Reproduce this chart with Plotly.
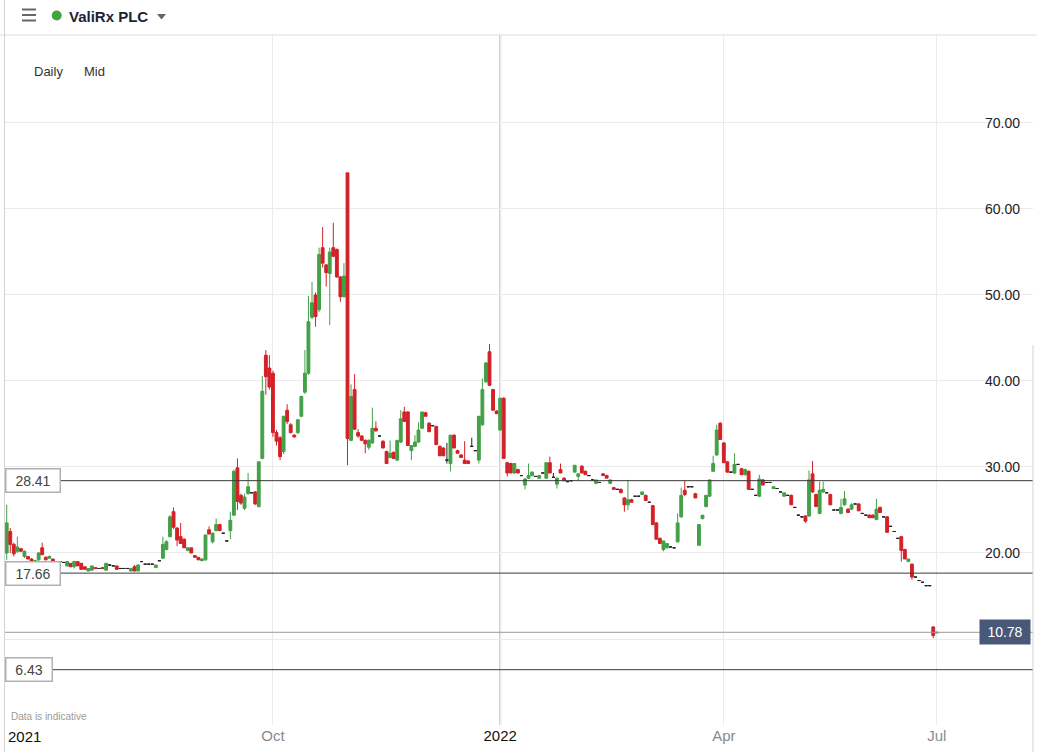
import pandas as pd
import plotly.graph_objects as go

# ---------------- data ----------------
title = "ValiRx PLC"
last_price = 10.78
levels = [28.41, 17.66, 6.43]
uk_holidays = ["2021-08-30", "2021-12-27", "2021-12-28", "2022-01-03", "2022-04-15",
               "2022-04-18", "2022-05-02", "2022-06-02", "2022-06-03"]
tick_months = ["2021-10-01", "2022-01-01", "2022-04-01", "2022-07-01"]
tick_labels = ["Oct", "2022", "Apr", "Jul"]
y_ticks = [10, 20, 30, 40, 50, 60, 70]

opens = [
    20.0, 22.5, 21.0, 20.2, 20.5, 19.6, 19.6, 19.3, 19.0, 19.2,
    20.6, 19.5, 19.4, 19.3, 19.0, 19.0, 18.9, 18.5, 18.8, 18.4,
    19.0, 18.8, 18.4, 17.9, 18.0, 18.3, 18.2, 18.3, 18.0, 18.6,
    18.5, 18.5, 18.2, 18.2, 18.2, 17.9, 18.4, 17.9, 19.0, 18.7,
    18.7, 18.7, 18.3, 19.1, 19.4, 20.4, 21.9, 24.8, 22.9, 21.9,
    21.6, 20.3, 20.6, 19.7, 19.5, 19.1, 19.2, 22.7, 21.3, 22.6,
    23.3, 22.3, 21.4, 22.6, 24.4, 29.9, 26.7, 25.2, 26.9, 27.0,
    27.1, 25.4, 31.0, 43.0, 41.5, 40.9, 34.0, 33.4, 31.8, 36.6,
    34.9, 33.7, 34.0, 35.9, 38.7, 40.9, 47.4, 50.0, 48.3, 55.5,
    53.5, 52.5, 55.5, 55.3, 52.1, 49.8, 64.2, 33.1, 39.0, 34.0,
    33.6, 33.1, 32.3, 32.8, 34.5, 33.6, 33.0, 31.8, 31.1, 31.7,
    30.8, 32.9, 36.4, 36.4, 31.9, 32.4, 32.9, 34.5, 36.3, 35.1,
    34.8, 34.7, 32.4, 32.2, 30.8, 30.4, 33.7, 31.9, 31.4, 30.8,
    30.7, 32.4, 31.9, 30.8, 34.9, 39.9, 43.4, 39.0, 36.5, 34.3,
    38.0, 30.5, 30.4, 29.3, 29.7, 29.0, 27.9, 28.7, 29.0, 28.9,
    28.7, 29.3, 28.7, 30.5, 28.8, 28.0, 29.7, 28.7, 28.3, 28.4,
    29.4, 28.9, 30.1, 29.5, 29.0, 28.5, 28.1, 28.2, 29.2, 29.0,
    28.1, 27.6, 27.4, 27.4, 26.4, 25.6, 26.2, 26.6, 26.6, 26.8,
    26.7, 25.9, 25.5, 23.5, 21.7, 20.4, 20.6, 20.7, 20.6, 21.3,
    24.2, 27.3, 27.7, 27.7, 26.9, 20.9, 24.0, 25.4, 26.6, 29.5,
    31.4, 35.1, 32.8, 30.6, 29.4, 29.3, 30.3, 29.8, 29.1, 29.5,
    27.4, 26.7, 26.6, 28.5, 28.2, 28.2, 27.5, 27.5, 27.1, 26.6,
    26.7, 26.7, 25.3, 24.4, 24.2, 24.3, 24.3, 29.2, 26.8, 24.6,
    27.1, 27.0, 26.8, 25.0, 25.0, 24.6, 25.6, 25.1, 25.1, 25.7,
    25.7, 24.6, 24.4, 24.4, 24.4, 23.9, 25.3, 24.2, 24.2, 23.1,
    22.5, 21.7, 21.9, 20.4, 19.0, 18.7, 17.2, 16.8, 16.6, 16.2,
    16.2, 11.4, 10.7,
]
highs = [
    25.6, 22.9, 21.2, 21.9, 20.6, 20.3, 19.6, 19.4, 19.2, 20.1,
    21.2, 19.6, 19.7, 19.3, 19.0, 19.0, 18.9, 19.0, 18.8, 19.1,
    19.0, 18.8, 18.4, 18.2, 18.5, 18.3, 18.2, 18.3, 18.8, 18.6,
    18.5, 18.5, 18.2, 18.2, 18.2, 18.2, 18.6, 18.7, 19.0, 18.7,
    18.7, 18.7, 18.6, 19.1, 21.9, 21.5, 24.4, 25.3, 23.0, 23.5,
    21.7, 20.7, 20.6, 19.7, 19.5, 19.4, 22.1, 23.1, 22.4, 24.0,
    23.4, 22.3, 21.4, 24.8, 29.7, 31.0, 26.9, 26.9, 29.3, 27.0,
    27.2, 30.6, 40.6, 43.6, 43.0, 41.2, 34.3, 33.6, 35.9, 37.3,
    35.1, 33.8, 35.5, 38.3, 43.6, 49.9, 51.5, 50.3, 55.5, 57.9,
    53.6, 55.5, 58.4, 55.4, 52.2, 53.7, 64.2, 39.6, 40.8, 34.4,
    33.7, 33.2, 33.2, 36.9, 35.3, 33.6, 33.1, 31.9, 33.1, 31.8,
    33.1, 36.6, 37.0, 36.5, 32.5, 33.7, 35.2, 36.4, 36.4, 35.2,
    34.8, 34.8, 32.5, 32.3, 32.8, 33.7, 33.8, 32.0, 31.5, 33.0,
    30.8, 33.4, 31.9, 35.9, 40.3, 42.2, 44.3, 39.1, 36.6, 38.0,
    38.1, 30.6, 30.5, 30.4, 29.8, 29.0, 28.7, 30.4, 29.5, 28.9,
    29.1, 29.3, 30.5, 31.2, 29.3, 28.8, 30.4, 28.8, 28.3, 28.4,
    30.2, 29.3, 30.2, 29.6, 29.0, 28.5, 28.5, 28.2, 29.3, 29.1,
    28.5, 27.7, 27.4, 27.5, 26.5, 28.5, 26.3, 26.6, 26.6, 27.1,
    26.8, 25.9, 25.6, 23.6, 21.8, 21.4, 21.1, 20.7, 20.6, 24.6,
    27.6, 28.4, 27.7, 27.7, 27.0, 23.3, 24.4, 26.7, 28.5, 31.3,
    34.9, 35.2, 32.9, 30.7, 29.4, 31.6, 30.3, 29.9, 29.8, 29.6,
    27.4, 26.7, 29.1, 28.6, 28.2, 28.2, 27.7, 27.5, 27.1, 27.0,
    26.7, 26.8, 25.3, 24.4, 24.2, 24.4, 29.6, 30.7, 26.9, 28.3,
    28.3, 27.0, 26.9, 25.0, 25.0, 26.3, 27.2, 25.2, 25.8, 25.7,
    25.8, 24.6, 24.4, 24.5, 24.5, 26.3, 25.4, 24.2, 24.3, 23.1,
    22.5, 21.7, 22.0, 20.5, 19.3, 18.8, 17.2, 16.8, 16.6, 16.2,
    16.2, 11.5, 10.8,
]
lows = [
    19.2, 20.0, 19.6, 20.0, 20.1, 19.4, 19.3, 19.0, 18.9, 19.1,
    19.8, 19.2, 19.3, 19.0, 19.0, 19.0, 18.9, 18.4, 18.4, 18.2,
    18.5, 18.1, 18.1, 17.9, 18.0, 18.2, 18.2, 18.1, 18.0, 18.6,
    18.5, 18.1, 18.2, 18.2, 18.2, 17.9, 17.9, 17.9, 19.0, 18.7,
    18.7, 18.7, 18.3, 19.1, 19.3, 20.3, 21.8, 22.8, 20.8, 21.1,
    20.6, 20.2, 20.0, 19.5, 19.2, 19.1, 19.1, 22.2, 21.1, 22.5,
    22.6, 22.3, 21.4, 21.6, 24.3, 25.0, 25.6, 25.0, 26.8, 27.0,
    25.6, 25.3, 30.9, 38.4, 39.0, 33.5, 32.5, 30.8, 31.5, 35.0,
    33.9, 33.4, 33.8, 35.8, 38.5, 40.7, 47.2, 46.3, 48.0, 53.2,
    51.0, 46.5, 54.4, 52.0, 49.2, 49.7, 30.2, 33.0, 34.3, 33.4,
    33.0, 31.6, 32.0, 32.7, 34.1, 33.6, 32.2, 30.4, 31.0, 31.0,
    30.7, 32.8, 35.3, 32.5, 30.8, 32.3, 32.8, 34.4, 35.9, 34.1,
    34.8, 32.6, 31.3, 31.3, 30.4, 29.5, 32.2, 31.6, 31.1, 30.4,
    30.4, 32.4, 31.9, 30.4, 34.8, 39.8, 39.4, 36.6, 36.2, 34.2,
    31.0, 28.9, 29.3, 29.2, 29.3, 29.0, 27.4, 28.6, 28.9, 28.9,
    28.6, 29.3, 28.6, 29.3, 28.8, 27.5, 29.3, 28.4, 28.3, 28.4,
    29.4, 28.4, 29.3, 29.1, 29.0, 28.5, 28.0, 28.2, 29.0, 28.7,
    28.0, 27.4, 27.4, 27.0, 24.8, 25.0, 25.9, 26.6, 26.6, 26.8,
    26.1, 25.9, 23.3, 21.6, 21.1, 20.2, 20.5, 20.7, 20.6, 21.2,
    24.1, 26.6, 27.7, 27.7, 26.4, 20.8, 23.9, 25.3, 26.5, 29.4,
    31.3, 33.2, 30.5, 29.4, 29.4, 29.2, 30.3, 29.1, 29.0, 27.4,
    27.4, 26.7, 26.5, 27.9, 28.2, 28.2, 27.5, 27.5, 27.1, 26.6,
    26.7, 25.6, 25.3, 24.4, 24.2, 23.5, 24.2, 27.0, 25.4, 24.5,
    27.0, 27.0, 25.6, 25.0, 25.0, 24.5, 25.5, 24.7, 25.0, 25.7,
    24.9, 24.6, 24.4, 24.1, 24.1, 23.8, 24.7, 24.2, 22.4, 23.1,
    22.5, 21.7, 19.0, 19.3, 19.0, 16.9, 17.2, 16.8, 16.6, 16.2,
    16.2, 10.1, 10.7,
]
closes = [
    23.5, 21.0, 19.9, 20.7, 20.2, 20.2, 19.3, 19.0, 19.1, 20.0,
    19.8, 19.2, 19.6, 19.0, 19.0, 19.0, 18.9, 19.0, 18.4, 19.0,
    18.5, 18.1, 18.1, 18.2, 18.5, 18.2, 18.2, 18.2, 18.8, 18.6,
    18.5, 18.1, 18.2, 18.2, 18.2, 18.2, 17.9, 18.6, 19.0, 18.7,
    18.7, 18.7, 18.6, 19.1, 21.0, 21.3, 24.2, 23.0, 21.5, 21.1,
    20.6, 20.6, 20.0, 19.5, 19.2, 19.3, 22.1, 22.2, 22.3, 23.3,
    22.6, 22.3, 21.4, 23.8, 29.5, 26.0, 25.8, 26.5, 27.7, 27.0,
    25.7, 30.6, 38.8, 40.5, 39.3, 34.0, 33.0, 31.2, 35.9, 35.3,
    34.0, 33.5, 35.5, 38.2, 40.9, 46.9, 49.1, 47.5, 54.7, 53.7,
    52.6, 55.0, 54.5, 52.1, 49.8, 52.2, 33.3, 38.2, 34.4, 33.6,
    33.1, 32.7, 33.1, 34.5, 34.2, 33.6, 32.2, 30.4, 31.6, 31.0,
    33.1, 35.6, 35.3, 32.5, 32.5, 32.9, 34.3, 36.4, 35.9, 34.1,
    34.8, 32.6, 31.3, 31.3, 30.8, 33.7, 32.2, 31.6, 31.1, 30.4,
    30.4, 32.4, 31.9, 35.9, 39.0, 42.1, 39.5, 36.6, 36.2, 38.0,
    31.0, 29.3, 29.3, 30.4, 29.3, 29.0, 28.6, 29.0, 29.4, 28.9,
    29.0, 29.3, 30.5, 29.3, 28.8, 28.7, 29.3, 28.4, 28.3, 28.4,
    30.2, 29.2, 29.3, 29.1, 29.0, 28.5, 28.5, 28.2, 29.0, 28.7,
    28.5, 27.4, 27.4, 27.0, 25.6, 26.2, 25.9, 26.6, 26.6, 27.1,
    26.1, 25.9, 23.3, 21.6, 21.1, 21.4, 21.1, 20.7, 20.6, 23.5,
    26.7, 26.8, 27.7, 27.7, 26.4, 23.3, 24.4, 26.7, 28.5, 30.4,
    34.3, 33.2, 30.5, 29.4, 29.4, 30.3, 30.3, 29.1, 29.7, 27.4,
    27.4, 26.7, 28.6, 27.9, 28.2, 28.2, 27.7, 27.5, 27.1, 27.0,
    26.7, 25.6, 25.3, 24.4, 24.2, 23.7, 28.5, 27.1, 25.4, 27.3,
    27.4, 27.0, 25.6, 25.0, 25.0, 25.3, 26.3, 24.7, 25.6, 25.7,
    24.9, 24.6, 24.4, 24.1, 24.1, 25.1, 24.7, 24.2, 22.4, 23.1,
    22.5, 21.7, 20.3, 19.3, 19.3, 17.2, 17.2, 16.8, 16.6, 16.2,
    16.2, 10.4, 10.78,
]

# ---------------- trading-day categories ----------------
n = min(len(opens), len(highs), len(lows), len(closes))
all_days = [d.strftime("%Y-%m-%d") for d in pd.bdate_range("2021-06-01", "2022-07-01")]
trading_days = [d for d in all_days if d not in uk_holidays]
dates = trading_days[-n:]

tick_vals = []
for m in tick_months:
    tick_vals.append(next(d for d in dates if d >= m))
idx_2022 = dates.index(tick_vals[1])

is_doji = [opens[i] == closes[i] for i in range(n)]
def pick(arr, keep):
    return [arr[i] if (is_doji[i] == keep) else None for i in range(n)]

GREEN = "#43a047"
RED = "#d32027"
FONT = "Liberation Sans, Arial, sans-serif"

# plot area geometry (pixels)
W, H = 1037, 752
ML, MR, MT, MB = 5, 4, 35, 27
PW, PH = W - ML - MR, H - MT - MB
def px(x):
    return (x - ML) / PW
def py(y):
    return (H - MB - y) / PH

fig = go.Figure()
fig.add_trace(go.Candlestick(
    x=dates, open=pick(opens, False), high=pick(highs, False),
    low=pick(lows, False), close=pick(closes, False),
    increasing=dict(fillcolor=GREEN, line=dict(color=GREEN, width=1)),
    decreasing=dict(fillcolor=RED, line=dict(color=RED, width=1)),
    whiskerwidth=0, showlegend=False, hoverinfo="skip",
))
fig.add_trace(go.Candlestick(
    x=dates, open=pick(opens, True), high=pick(highs, True),
    low=pick(lows, True), close=pick(closes, True),
    increasing=dict(fillcolor="#222", line=dict(color="#222", width=1)),
    decreasing=dict(fillcolor="#222", line=dict(color="#222", width=1)),
    whiskerwidth=0, showlegend=False, hoverinfo="skip",
))

shapes = []
# 2022 year line
shapes.append(dict(type="line", xref="x", yref="paper", x0=idx_2022, x1=idx_2022,
                   y0=0, y1=1, line=dict(color="#c9c9c9", width=2), layer="below"))
# support / resistance levels
for lv in levels:
    shapes.append(dict(type="line", xref="paper", yref="y", x0=0, x1=1, y0=lv, y1=lv,
                       line=dict(color="#3a3a3a", width=1)))
# last price line
shapes.append(dict(type="line", xref="paper", yref="y", x0=0, x1=1, y0=last_price, y1=last_price,
                   line=dict(color="#9a9a9a", width=1)))
# header separator & frame lines
shapes.append(dict(type="line", xref="paper", yref="paper", x0=px(0), x1=px(W), y0=1, y1=1,
                   line=dict(color="#dcdcdc", width=1)))
shapes.append(dict(type="line", xref="paper", yref="paper", x0=px(4.5), x1=px(4.5), y0=py(H), y1=py(0),
                   line=dict(color="#d4d4d4", width=1)))
shapes.append(dict(type="line", xref="paper", yref="paper", x0=px(1033), x1=px(1033), y0=py(H), y1=py(345),
                   line=dict(color="#d4d4d4", width=1)))
# hamburger icon
for yy in (9.5, 15, 20.5):
    shapes.append(dict(type="line", xref="paper", yref="paper", x0=px(22), x1=px(36), y0=py(yy), y1=py(yy),
                       line=dict(color="#666", width=2)))
# status dot
shapes.append(dict(type="circle", xref="paper", yref="paper", x0=px(51.7), x1=px(61.7),
                   y0=py(20.5), y1=py(10.5), fillcolor="#3ea83e", line=dict(width=0)))
# dropdown triangle
shapes.append(dict(type="path", xref="paper", yref="paper",
                   path=f"M {px(157)},{py(14)} L {px(166)},{py(14)} L {px(161.5)},{py(19.5)} Z",
                   fillcolor="#666", line=dict(width=0)))

annotations = []
annotations.append(dict(text=f"<b>{title}</b>", xref="paper", yref="paper", x=px(67), y=py(16),
                        xanchor="left", yanchor="middle", showarrow=False,
                        font=dict(family=FONT, size=15, color="#1c2333")))
annotations.append(dict(text="Daily", xref="paper", yref="paper", x=px(32), y=py(72),
                        xanchor="left", yanchor="middle", showarrow=False,
                        font=dict(family=FONT, size=13, color="#333")))
annotations.append(dict(text="Mid", xref="paper", yref="paper", x=px(82), y=py(72),
                        xanchor="left", yanchor="middle", showarrow=False,
                        font=dict(family=FONT, size=13, color="#333")))
annotations.append(dict(text="Data is indicative", xref="paper", yref="paper", x=px(9), y=py(716),
                        xanchor="left", yanchor="middle", showarrow=False,
                        font=dict(family=FONT, size=10, color="#9a9a9a")))
annotations.append(dict(text="2021", xref="paper", yref="paper", x=px(6), y=py(737),
                        xanchor="left", yanchor="middle", showarrow=False,
                        font=dict(family=FONT, size=15, color="#111")))
for lv in levels:
    txt = f"{lv:.2f}"
    annotations.append(dict(text=txt, xref="paper", yref="y", x=0, y=lv,
                            xanchor="left", yanchor="middle", showarrow=False,
                            width=51 if len(txt) > 4 else 43, height=20, borderpad=1,
                            bgcolor="white", bordercolor="#b0b0b0", borderwidth=1.5,
                            font=dict(family=FONT, size=14, color="#444")))
annotations.append(dict(text=f"{last_price:.2f}", xref="paper", yref="y", x=px(1004.5), y=last_price,
                        xanchor="center", yanchor="middle", showarrow=False,
                        width=46, height=20, borderpad=2, bgcolor="#4a5878",
                        font=dict(family=FONT, size=14, color="white")))

gray_lbl = lambda s: f'<span style="color:#8a8a8a">{s}</span>'
tick_text = [lbl if lbl.isdigit() else gray_lbl(lbl) for lbl in tick_labels]

fig.update_layout(
    width=W, height=H,
    margin=dict(l=ML, r=MR, t=MT, b=MB, pad=0),
    paper_bgcolor="white", plot_bgcolor="white",
    font=dict(family=FONT),
    shapes=shapes, annotations=annotations,
    showlegend=False,
    boxgap=0.2, boxgroupgap=0,
    xaxis=dict(
        type="category", range=[-0.48, 289.1],
        tickmode="array", tickvals=tick_vals, ticktext=tick_text,
        tickfont=dict(family=FONT, size=15, color="#111"),
        showgrid=True, gridcolor="#ebebeb", gridwidth=1,
        showline=False, zeroline=False, ticks="",
        rangeslider=dict(visible=False), fixedrange=True,
    ),
    yaxis=dict(
        side="right", range=[0, 80.23],
        tickmode="array", tickvals=y_ticks,
        ticktext=["" if v == 10 else f"{v:.2f}" for v in y_ticks],
        ticklabelposition="inside", ticklabelstandoff=10,
        tickfont=dict(family=FONT, size=14, color="#222"),
        showgrid=True, gridcolor="#ebebeb", gridwidth=1,
        showline=False, zeroline=False, ticks="", fixedrange=True,
    ),
)

fig.write_html("out.html", config={"displayModeBar": False},
               post_script="document.body.style.margin='0';document.body.style.overflow='hidden';")
